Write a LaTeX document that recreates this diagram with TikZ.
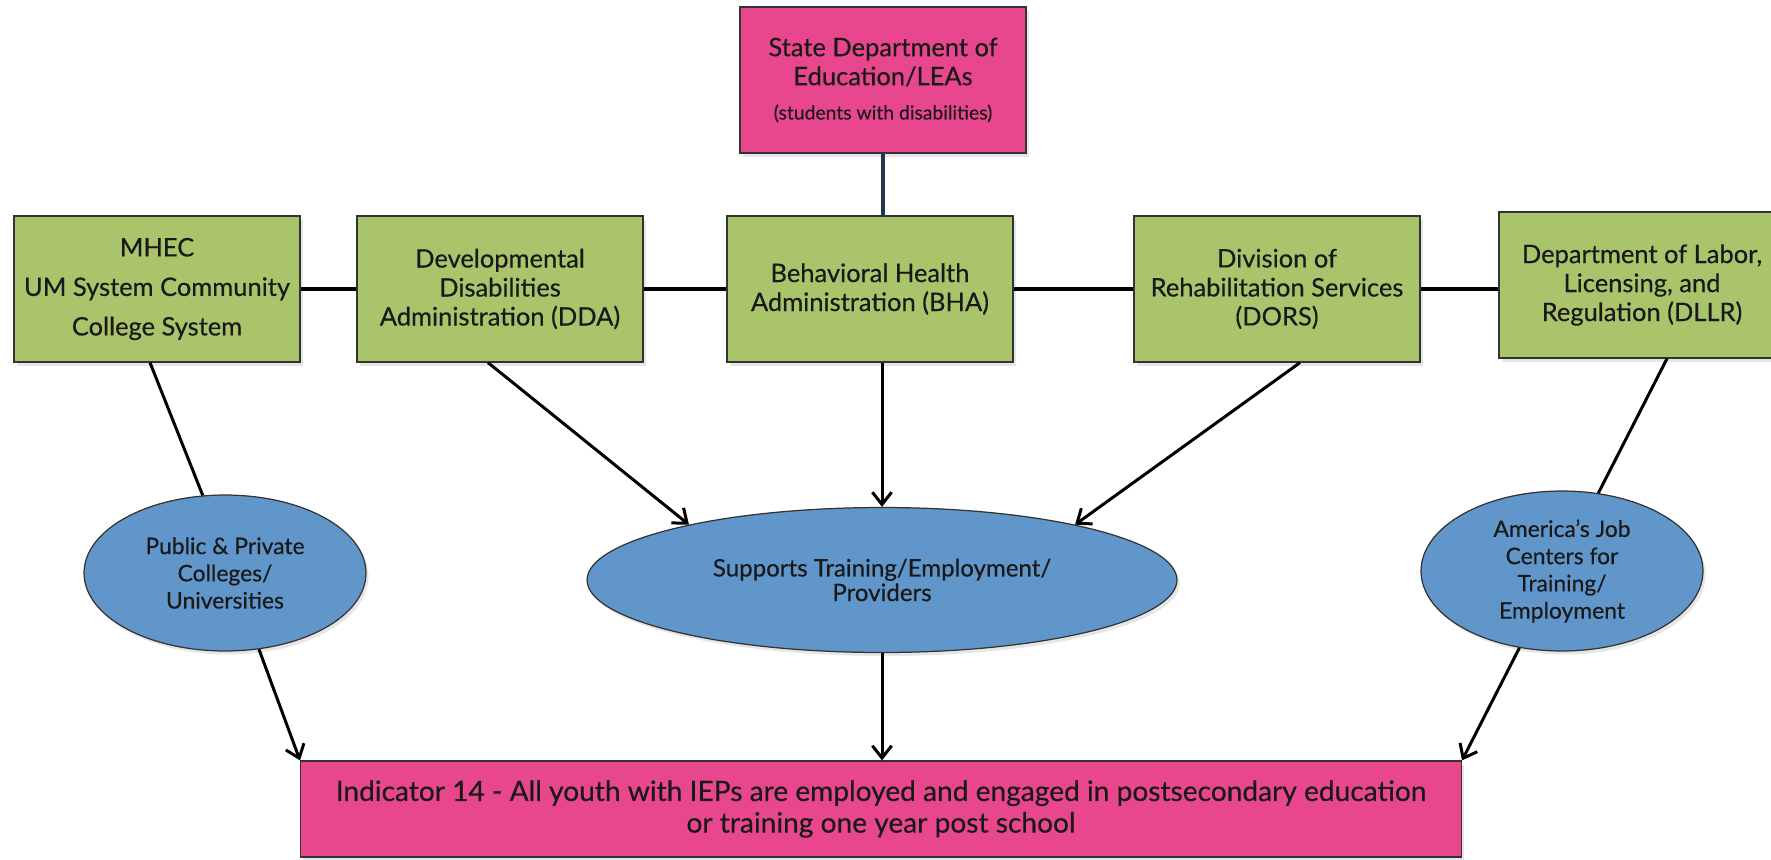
\documentclass[tikz,border=0pt]{standalone}
\usepackage{fontspec}
\setmainfont{Lato}[FakeBold=0.35]
\usetikzlibrary{shapes.geometric,shadows,arrows.meta}

\definecolor{pinkbox}{HTML}{E9478D}
\definecolor{greenbox}{HTML}{A9C46B}
\definecolor{bluebox}{HTML}{6196CA}
\definecolor{navyline}{HTML}{22384F}

\begin{document}
\begin{tikzpicture}[x=0.02cm,y=-0.02cm]
            \useasboundingbox (0,0) rectangle (1771,859);

            \begin{scope}[every node/.style={rectangle,draw=black!80,line width=0.7pt,fill=greenbox,
                    minimum width=5.72cm,minimum height=2.92cm,inner sep=2pt,align=center,
                    font=\fontsize{14.5}{16.5}\selectfont,text=black!90,
                    drop shadow={opacity=0.2,shadow xshift=1.5pt,shadow yshift=-2pt}}]
                \node (mhec) at (157,289) {MHEC\\[6pt]UM System Community\\[6pt]College System};
                \node (dda) at (500,289) {Developmental\\Disabilities\\Administration (DDA)};
                \node (bha) at (870,289) {Behavioral Health\\Administration (BHA)};
                \node (dors) at (1277,289) {Division of\\Rehabilitation Services\\(DORS)};
                \node (dllr) at (1642,285) {Department of Labor,\\Licensing, and\\Regulation (DLLR)};
                \node [fill=pinkbox] (state) at (883,80)
                    {State Department of\\Education/LEAs\\[3pt]{\fontsize{11}{13}\selectfont (students with disabilities)}};
                \node [fill=pinkbox,minimum width=23.22cm,minimum height=1.92cm,font=\fontsize{16}{18}\selectfont] (ind) at (881,809)
                    {Indicator 14 - All youth with IEPs are employed and engaged in postsecondary education\\or training one year post school};
            \end{scope}

            \begin{scope}[every node/.style={ellipse,draw=black!80,line width=0.7pt,fill=bluebox,
                    inner sep=0pt,align=center,font=\fontsize{13}{15.5}\selectfont,text=black!90,
                    drop shadow={opacity=0.2,shadow xshift=1.5pt,shadow yshift=-2pt}}]
                \node [minimum width=5.64cm,minimum height=3.12cm] (pub) at (225,573) {Public \& Private\\Colleges/\\Universities};
                \node [minimum width=11.8cm,minimum height=2.9cm,font=\fontsize{13.7}{14}\selectfont] (sup) at (882,580) {Supports Training/Employment/\\Providers};
                \node [minimum width=5.64cm,minimum height=3.2cm] (job) at (1562,571) {America’s Job\\Centers for\\Training/\\Employment};
            \end{scope}

            \begin{scope}[line width=2.2pt]
                \draw (mhec) -- (dda);
                \draw (dda) -- (bha);
                \draw (bha.east) -- (bha.east -| dors.west);
                \draw (dors.east) -- (dors.east -| dllr.west);
                \draw [navyline,line width=1.8pt] (state.south) -- (state.south |- bha.north);
            \end{scope}

            \begin{scope}[line width=1.7pt,>={Straight Barb[length=7pt,width=11pt]}]
                \path ([xshift=-0.14cm]mhec.south) edge (pub.106);
                \path [->] ([xshift=-0.24cm]dda.south) edge (sup.164);
                \path [->] (bha.south -| sup.north) edge (sup.north);
                \path [->] ([xshift=0.46cm]dors.south) edge (sup.16);
                \path ([xshift=0.5cm]dllr.south) edge (job.65);

                \path [->] (pub.-66) edge (ind.north west);
                \path [->] (sup.south) edge (sup.south |- ind.north);
                \path [->] (job.-119) edge (ind.north east);
            \end{scope}
\end{tikzpicture}
\end{document}
